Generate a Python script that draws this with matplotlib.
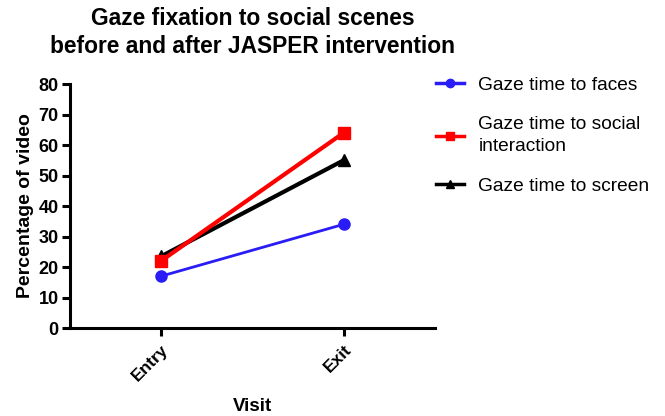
import matplotlib
matplotlib.use("Agg")
import matplotlib.pyplot as plt

plt.rcParams['font.family'] = ['Liberation Sans', 'DejaVu Sans']

visits = ["Entry", "Exit"]
faces = [17, 34]
social = [22, 64]
screen = [23.5, 55]
series_labels = ["Gaze time to faces", "Gaze time to social\ninteraction", "Gaze time to screen"]

fig = plt.figure(figsize=(6.65, 4.16), dpi=100)
ax = fig.add_axes([0.105, 0.2115, 0.549, 0.5865])

x = list(range(len(visits)))
l3, = ax.plot(x, screen, color='black', marker='^', markersize=8, linewidth=3, label=series_labels[2], zorder=3)
l2, = ax.plot(x, social, color='#ff0000', marker='s', markersize=8, linewidth=3, label=series_labels[1], zorder=4)
l1, = ax.plot(x, faces, color='#2a1cf5', marker='o', markersize=8, linewidth=2, label=series_labels[0], zorder=5)

ax.set_xlim(-0.5, 1.5)
ax.set_ylim(0, 80)
ax.set_yticks(range(0, 81, 10))
ax.set_xticks(x)
ax.set_xticklabels(visits, rotation=45, ha='right', rotation_mode='anchor', fontsize=12.5, fontweight='bold')
for lab in ax.get_yticklabels():
    lab.set_fontweight('bold')
    lab.set_fontsize(13)

for s in ['top', 'right']:
    ax.spines[s].set_visible(False)
for s in ['left', 'bottom']:
    ax.spines[s].set_linewidth(2.2)
ax.tick_params(width=2.2, length=6, direction='out', pad=2)
ax.tick_params(axis='x', pad=4)

ax.set_ylabel("Percentage of video", fontsize=14, fontweight='bold', labelpad=3)
ax.set_xlabel("Visit", fontsize=13.5, fontweight='bold', labelpad=10)
ax.set_title("Gaze fixation to social scenes\nbefore and after JASPER intervention",
             fontsize=16.4, fontweight='bold', pad=22, linespacing=1.3)

leg = fig.legend(handles=[l1, l2, l3], labels=series_labels, loc='upper left',
                 bbox_to_anchor=(0.63, 0.857), frameon=False, fontsize=13.8,
                 handlelength=1.45, handletextpad=0.75, labelspacing=1.15, markerscale=0.75)
for line in leg.get_lines():
    line.set_linewidth(2.5)
for t in leg.get_texts():
    t.set_linespacing(1.4)

fig.savefig("out.png", dpi=100)
